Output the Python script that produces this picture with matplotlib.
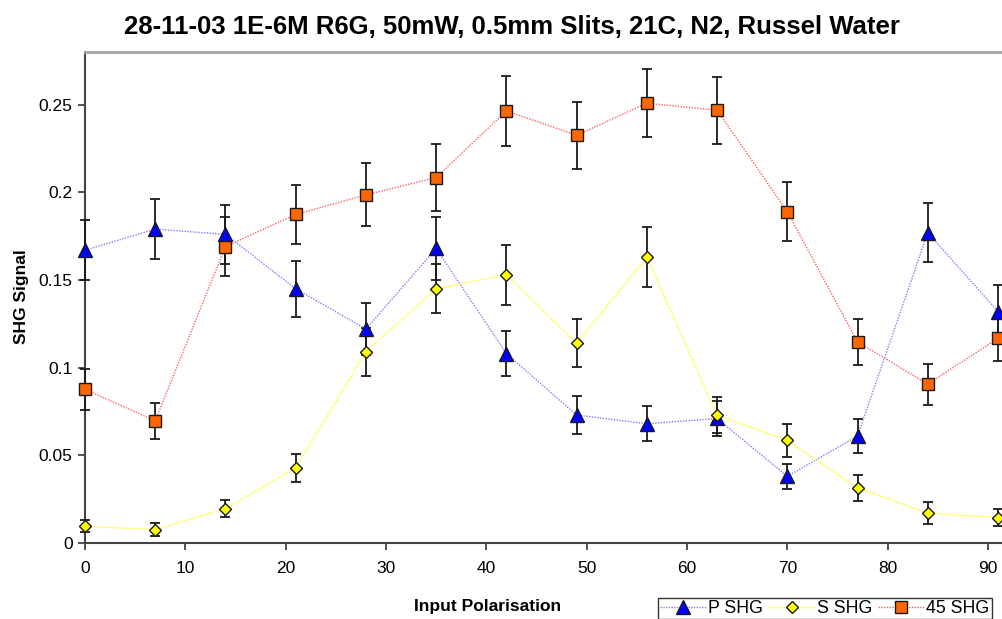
import matplotlib
matplotlib.use("Agg")
import matplotlib.pyplot as plt
import numpy as np

plt.rcParams['font.family'] = ['Liberation Sans', 'DejaVu Sans']

angles = [0, 7, 14, 21, 28, 35, 42, 49, 56, 63, 70, 77, 84, 91]
p_shg = [0.167, 0.179, 0.176, 0.145, 0.122, 0.168, 0.108, 0.073, 0.068, 0.071, 0.038, 0.061, 0.177, 0.132]
p_err = [0.017, 0.017, 0.017, 0.016, 0.015, 0.018, 0.013, 0.011, 0.010, 0.010, 0.007, 0.0095, 0.017, 0.015]
s_shg = [0.0095, 0.0076, 0.0196, 0.0428, 0.109, 0.145, 0.153, 0.114, 0.163, 0.073, 0.0586, 0.0314, 0.0171, 0.0145]
s_err = [0.0035, 0.0036, 0.005, 0.008, 0.0137, 0.014, 0.017, 0.0139, 0.017, 0.0105, 0.0095, 0.0073, 0.006, 0.005]
d45_shg = [0.0876, 0.0697, 0.169, 0.1874, 0.1985, 0.2084, 0.2464, 0.2325, 0.2508, 0.2468, 0.189, 0.1147, 0.0906, 0.1167]
d45_err = [0.0117, 0.0103, 0.017, 0.017, 0.018, 0.019, 0.020, 0.019, 0.0195, 0.019, 0.0167, 0.013, 0.0117, 0.013]

title = "28-11-03 1E-6M R6G, 50mW, 0.5mm Slits, 21C, N2, Russel Water"
x_ticks = [0, 10, 20, 30, 40, 50, 60, 70, 80, 90]
y_ticks = [0, 0.05, 0.1, 0.15, 0.2, 0.25]
y_tick_labels = ["0", "0.05", "0.1", "0.15", "0.2", "0.25"]

W, H = 1002, 619
fig = plt.figure(figsize=(W / 100, H / 100), dpi=100)
ax = fig.add_axes([85 / W, 1 - 543 / H, (1002 - 85) / W, (543 - 52) / H])

series = [
    ("P SHG", p_shg, p_err, "^", "#0000ff", "#7f7fff", 9.5),
    ("S SHG", s_shg, s_err, "D", "#ffff00", "#ffff00", 6.5),
    ("45 SHG", d45_shg, d45_err, "s", "#ff6600", "#ff6060", 8),
]
handles = []
for name, y, e, m, fc, lc, ms in series:
    ax.errorbar(angles, y, yerr=e, fmt="none", ecolor="#1a1a1a", elinewidth=1.3,
                capsize=3.3, capthick=1.3, zorder=3, clip_on=False)
    ln, = ax.plot(angles, y, linestyle=(0, (1, 1)), color=lc, linewidth=1.0,
                  marker=m, markersize=ms, markerfacecolor=fc,
                  markeredgecolor="#1a1a1a", markeredgewidth=1.0, zorder=4,
                  clip_on=False, label=name)
    handles.append(ln)

ax.set_xlim(0, 91.4)
ax.set_ylim(0, 0.28)
ax.set_xticks(x_ticks)
ax.set_yticks(y_ticks)
ax.set_yticklabels(y_tick_labels)
ax.tick_params(axis="both", labelsize=12.5, length=5, width=1.2, color="#333333",
               direction="out", pad=4)
ax.tick_params(axis="x", pad=8)
ax.spines["right"].set_visible(False)
ax.spines["top"].set_color("#a6a6a6")
ax.spines["top"].set_linewidth(2)
ax.spines["left"].set_color("#444444")
ax.spines["left"].set_linewidth(1.5)
ax.spines["bottom"].set_color("#444444")
ax.spines["bottom"].set_linewidth(1.5)

fig.text(512 / W, 1 - 27 / H, title, ha="center", va="center", fontsize=18.5,
         fontweight="bold")
fig.text(22 / W, 1 - 297 / H, "SHG Signal", ha="center", va="center",
         rotation=90, fontsize=12.5, fontweight="bold")
fig.text(488 / W, 1 - 607 / H, "Input Polarisation", ha="center", va="center",
         fontsize=12.5, fontweight="bold")

leg = fig.legend(handles=handles, loc="lower left",
                 bbox_to_anchor=(658 / W, 1 - 619 / H),
                 ncol=3, frameon=True, fancybox=False, fontsize=12.8,
                 handlelength=2.6, handletextpad=0.12, columnspacing=0.3,
                 borderpad=0.12, borderaxespad=0)
leg.get_frame().set_edgecolor("#000000")
leg.get_frame().set_linewidth(1.0)

fig.savefig("out.png", dpi=100)
